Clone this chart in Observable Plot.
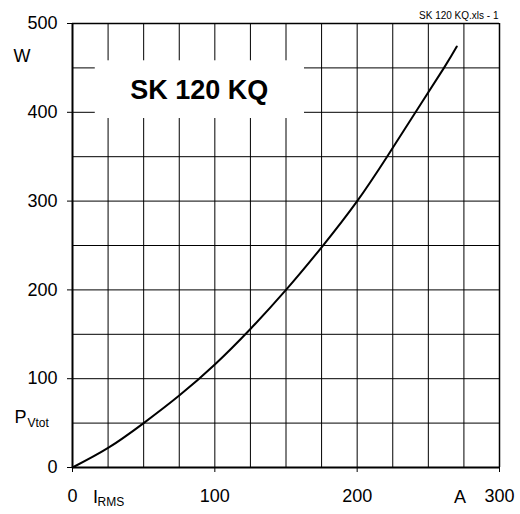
<!DOCTYPE html>
<html><head><meta charset="utf-8">
<script src="https://cdn.jsdelivr.net/npm/d3@7"></script>
<script src="https://cdn.jsdelivr.net/npm/@observablehq/plot@0.6"></script>
<style>html,body{margin:0;padding:0;background:#fff}</style>
</head><body><div id="chart"></div>
<script>
// Data
const currentA = [0, 25, 50, 75, 100, 125, 150, 175, 200, 221, 241, 261, 270];
const powerW   = [0, 22, 50, 81, 116, 156, 200, 248, 300, 350, 400, 450, 474];
const xTicks = [0, 100, 200, 300];
const yTicks = [0, 100, 200, 300, 400, 500];
const xGrid = [25, 50, 75, 100, 125, 150, 175, 200, 225, 250, 275];
const yGrid = [50, 100, 150, 200, 250, 300, 350, 400, 450];
const chartTitle = "SK 120 KQ";
const fileNote = "SK 120 KQ.xls - 1";
const titleBox = [{x1: 16, x2: 163, y1: 393, y2: 458}];
const titlePos = [{x: 89, y: 425, t: chartTitle}];

const curve = currentA.map((c, i) => ({i: c, p: powerW[i]}));
const FONT = "'Liberation Sans', Arial, Helvetica, sans-serif";

const chart = Plot.plot({
  width: 520,
  height: 514,
  marginLeft: 72,
  marginRight: 21,
  marginTop: 23,
  marginBottom: 47,
  style: {fontFamily: FONT, fontSize: "18px", color: "#000", background: "#fff"},
  x: {domain: [0, 300], ticks: xTicks, tickSize: 5, tickPadding: 17, label: null, tickFormat: d => String(d)},
  y: {domain: [0, 500], ticks: yTicks, tickSize: 5, tickPadding: 10, label: null, tickFormat: d => String(d)},
  marks: [
    Plot.ruleX(xGrid, {stroke: "#000", strokeWidth: 1}),
    Plot.ruleY(yGrid, {stroke: "#000", strokeWidth: 1}),
    Plot.rect(titleBox, {x1: "x1", x2: "x2", y1: "y1", y2: "y2", fill: "#fff"}),
    Plot.text(titlePos, {x: "x", y: "y", text: "t", fontSize: 27, fontWeight: "bold", textAnchor: "middle", lineAnchor: "middle"}),
    Plot.ruleX([300], {stroke: "#000", strokeWidth: 1.5}),
    Plot.ruleY([500], {stroke: "#000", strokeWidth: 1.5}),
    Plot.ruleX([0], {stroke: "#000", strokeWidth: 2}),
    Plot.ruleY([0], {stroke: "#000", strokeWidth: 2}),
    Plot.line(curve, {x: "i", y: "p", curve: "natural", stroke: "#000", strokeWidth: 2}),
    Plot.text([fileNote], {text: d => d, frameAnchor: "top-right", textAnchor: "end", lineAnchor: "bottom", dx: -1, dy: -5, fontSize: 10}),
    Plot.text(["W"], {text: d => d, frameAnchor: "top-left", textAnchor: "start", lineAnchor: "bottom", dx: -59, dy: 38, fontSize: 18}),
    Plot.text(["P"], {text: d => d, frameAnchor: "bottom-left", textAnchor: "start", lineAnchor: "bottom", dx: -58, dy: -45, fontSize: 18}),
    Plot.text(["Vtot"], {text: d => d, frameAnchor: "bottom-left", textAnchor: "start", lineAnchor: "bottom", dx: -45, dy: -41, fontSize: 12}),
    Plot.text(["I"], {text: d => d, frameAnchor: "bottom-left", textAnchor: "start", lineAnchor: "bottom", dx: 20.5, dy: 35, fontSize: 18}),
    Plot.text(["RMS"], {text: d => d, frameAnchor: "bottom-left", textAnchor: "start", lineAnchor: "bottom", dx: 25, dy: 38, fontSize: 12}),
    Plot.text(["A"], {text: d => d, frameAnchor: "bottom-right", textAnchor: "middle", lineAnchor: "bottom", dx: -39.5, dy: 35, fontSize: 18})
  ]
});
document.getElementById("chart").appendChild(chart);
</script>
</body></html>
